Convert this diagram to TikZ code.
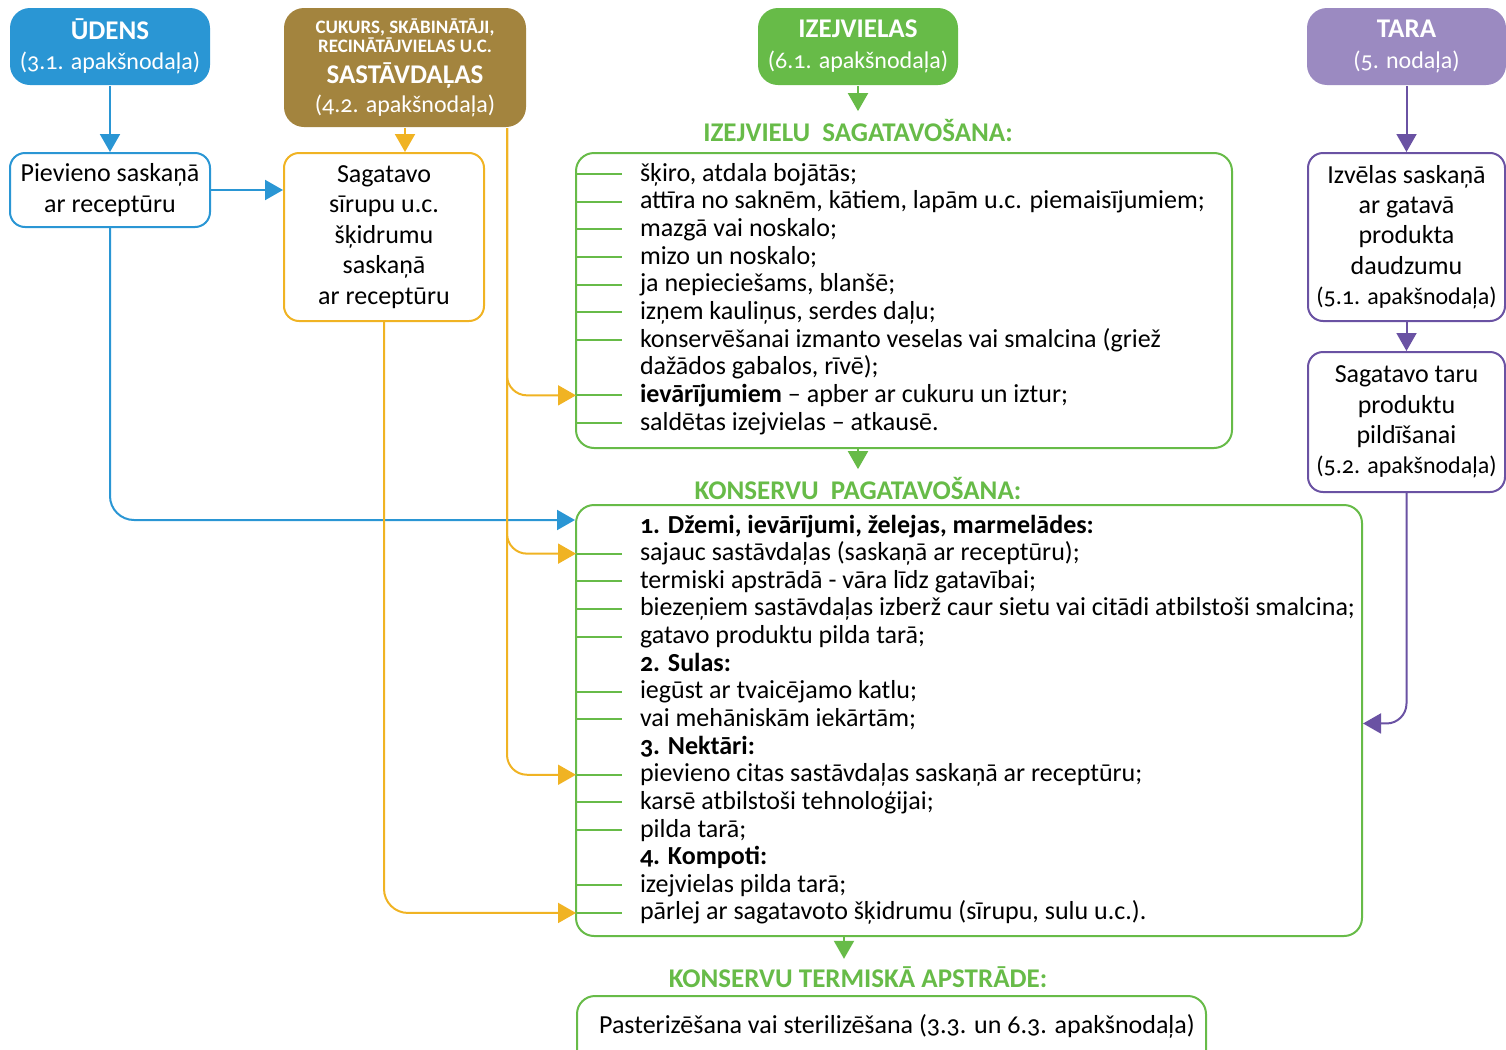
\documentclass[tikz,border=0pt]{standalone}
\usepackage{fontspec}
\setmainfont[Numbers=OldStyle]{Carlito}
\usetikzlibrary{positioning,arrows.meta}

\definecolor{udensblue}{RGB}{42,150,212}
\definecolor{cukursbrown}{RGB}{163,132,62}
\definecolor{izejgreen}{RGB}{103,187,72}
\definecolor{sirupyellow}{RGB}{240,179,35}
\definecolor{tarafill}{RGB}{155,138,193}
\definecolor{taraline}{RGB}{106,82,163}

\newcommand{\headtitle}[1]{{\fontsize{13.5}{15}\selectfont\bfseries #1}}
\newcommand{\headsmall}[1]{{\fontsize{9.5}{11}\selectfont\bfseries #1}}
\newcommand{\subref}[1]{{\fontsize{12}{15}\selectfont #1}}

\begin{document}
\begin{tikzpicture}[x=0.5pt, y=-0.5pt, line width=1pt,
    >={Triangle[length=9pt,width=10pt]},
    every node/.style={font=\fontsize{13}{15.2}\selectfont},
    headbox/.style={rounded corners=10pt, text=white, align=center, inner sep=0pt},
    stepbox/.style={draw, rounded corners=7.5pt, fill=white, align=center, inner sep=0pt},
    listbox/.style={draw=izejgreen, rounded corners=9pt, inner sep=0pt},
    listtext/.style={anchor=base west, inner sep=0pt},
    seclabel/.style={text=izejgreen, font=\fontsize{13.5}{15}\selectfont\bfseries},
    tick/.style={izejgreen}]
  \useasboundingbox (0,0) rectangle (1506,1050);

  % top row
  \node[headbox, fill=udensblue, minimum width=100pt, minimum height=38.5pt] (udens) at (110,46.5)
    {\headtitle{ŪDENS}\\[0pt]\subref{(3.1. apakšnodaļa)}};
  \node[headbox, fill=cukursbrown, minimum width=121pt, minimum height=59.5pt] (sastav) at (405,67.5)
    {\headsmall{CUKURS, SKĀBINĀTĀJI,}\\[-5.5pt]
     \headsmall{RECINĀTĀJVIELAS U.C.}\\[0.5pt]
     \headtitle{SASTĀVDAĻAS}\\[-1pt]\subref{(4.2. apakšnodaļa)}};
  \node[headbox, fill=izejgreen, minimum width=100pt, minimum height=38.5pt] (izejv) at (858,46.5)
    {\headtitle{IZEJVIELAS}\\[0pt]\subref{(6.1. apakšnodaļa)}};
  \node[headbox, fill=tarafill, minimum width=99.5pt, minimum height=38.5pt] (tara) at (1406.5,46.5)
    {\headtitle{TARA}\\[0pt]\subref{(5. nodaļa)}};

  % side boxes
  \node[stepbox, draw=udensblue, minimum width=100pt, minimum height=37pt] (pievieno) at (110,190)
    {Pievieno saskaņā\\ar receptūru};
  \node[stepbox, draw=sirupyellow, minimum width=100pt, minimum height=84pt] (sirups) at (384,237)
    {Sagatavo\\sīrupu u.c.\\šķidrumu\\saskaņā\\ar receptūru};
  \node[stepbox, draw=taraline, minimum width=98.5pt, minimum height=84pt] (izvelas) at (1406.5,237)
    {Izvēlas saskaņā\\ar gatavā\\produkta\\daudzumu\\\subref{(5.1. apakšnodaļa)}};
  \node[stepbox, draw=taraline, minimum width=98.5pt, minimum height=70pt] (taru) at (1406.5,422)
    {Sagatavo taru\\produktu\\pildīšanai\\\subref{(5.2. apakšnodaļa)}};

  % section labels
  \node[seclabel] (izlabel) at (858,130) {IZEJVIELU\ \ SAGATAVOŠANA:};
  \node[seclabel] (pglabel) at (858,488) {KONSERVU\ \ PAGATAVOŠANA:};
  \node[seclabel] (tmlabel) at (858,977) {KONSERVU TERMISKĀ APSTRĀDE:};

  % list boxes
  \node[listbox, minimum width=328pt, minimum height=147.5pt] (boxA) at (904,300.5) {};
  \node[listbox, minimum width=393pt, minimum height=215.5pt] (boxB) at (969,720.5) {};
  \node[listbox, minimum width=314.5pt, minimum height=37pt] (boxC) at (891.5,1033) {};
  \node[inner sep=0pt] (pasteris) at (897,1026) {Pasterizēšana vai sterilizēšana (3.3. un 6.3. apakšnodaļa)};

  \foreach \t/\k [count=\i from 0] in {
      {šķiro, atdala bojātās;}/1,
      {attīra no saknēm, kātiem, lapām u.c. piemaisījumiem;}/1,
      {mazgā vai noskalo;}/1,
      {mizo un noskalo;}/1,
      {ja nepieciešams, blanšē;}/1,
      {izņem kauliņus, serdes daļu;}/1,
      {konservēšanai izmanto veselas vai smalcina (griež}/1,
      {dažādos gabalos, rīvē);}/0,
      {\textbf{ievārījumiem} – apber ar cukuru un iztur;}/1,
      {saldētas izejvielas – atkausē.}/1}{
    \pgfmathsetmacro\y{174+27.67*\i}
    \coordinate (ta\i) at (576,\y);
    \node[listtext] (la\i) at (639,\y+7) {\t};
    \ifnum\k=1 \draw[tick] (ta\i) -- ++(46,0);\fi
  }

  \foreach \t/\k [count=\i from 0] in {
      {\textbf{1. Džemi, ievārījumi, želejas, marmelādes:}}/0,
      {sajauc sastāvdaļas (saskaņā ar receptūru);}/1,
      {termiski apstrādā - vāra līdz gatavībai;}/1,
      {biezeņiem sastāvdaļas izberž caur sietu vai citādi atbilstoši smalcina;}/1,
      {gatavo produktu pilda tarā;}/1,
      {\textbf{2. Sulas:}}/0,
      {iegūst ar tvaicējamo katlu;}/1,
      {vai mehāniskām iekārtām;}/1,
      {\textbf{3. Nektāri:}}/0,
      {pievieno citas sastāvdaļas saskaņā ar receptūru;}/1,
      {karsē atbilstoši tehnoloģijai;}/1,
      {pilda tarā;}/1,
      {\textbf{4. Kompoti:}}/0,
      {izejvielas pilda tarā;}/1,
      {pārlej ar sagatavoto šķidrumu (sīrupu, sulu u.c.).}/1}{
    \pgfmathsetmacro\y{526+27.64*\i}
    \coordinate (tb\i) at (576,\y);
    \node[listtext] (lb\i) at (639,\y+7) {\t};
    \ifnum\k=1 \draw[tick] (tb\i) -- ++(46,0);\fi
  }

  % connectors
  \draw[->, udensblue] (udens) -- (pievieno);
  \draw[->, udensblue] (pievieno.east) -- (pievieno.east -| sirups.west);
  \draw[->, udensblue, rounded corners=12pt] (pievieno) |- ([yshift=-8pt]boxB.north west);

  \draw[->, sirupyellow] (sastav.south) -- (sastav.south |- sirups.north);
  \draw[->, sirupyellow, rounded corners=10pt] ([xshift=-10pt]sastav.south east) |- (ta8);
  \draw[->, sirupyellow, rounded corners=10pt] ([xshift=-10pt]sastav.south east) |- (tb1);
  \draw[->, sirupyellow, rounded corners=10pt] ([xshift=-10pt]sastav.south east) |- (tb9);
  \draw[->, sirupyellow, rounded corners=12pt] (sirups) |- (tb14);

  \draw[->, izejgreen] (izejv) -- (izlabel);
  \draw[->, izejgreen] (izlabel.north |- boxA.south) -- (pglabel);
  \draw[->, izejgreen] ([xshift=-7pt]tmlabel.north |- boxB.south) -- ([xshift=-7pt]tmlabel.north);

  \draw[->, taraline] (tara) -- (izvelas);
  \draw[->, taraline] (izvelas) -- (taru);
  \draw[->, taraline, rounded corners=10pt] (taru) |- ([yshift=-2pt]boxB.east |- tb7);
\end{tikzpicture}
\end{document}
